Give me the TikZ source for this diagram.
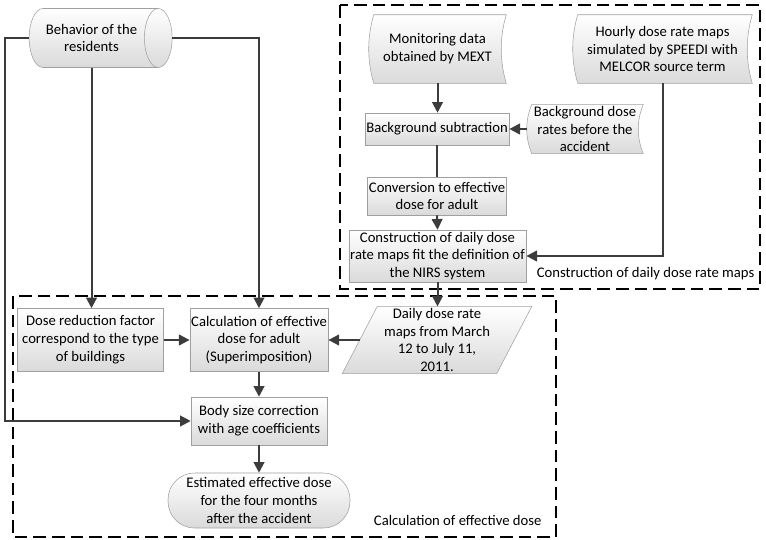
\documentclass[tikz,border=0pt]{standalone}
\usepackage{fontspec}
\setmainfont{Carlito}
\usetikzlibrary{arrows.meta,shapes.geometric,calc,backgrounds}

\definecolor{linegray}{HTML}{3C3C3C}
\definecolor{edgegray}{HTML}{A0A0A0}
\definecolor{fillgray}{HTML}{DADADA}

% stored data outline around a plain node
\newcommand\datashape[1]{%
	\shade[draw=edgegray,top color=white,bottom color=fillgray]
	($(#1.north west)+(5,0)$) -- (#1.north east)
	.. controls ($(#1.north east)!.33!(#1.south east)+(-6.7,0)$) and ($(#1.north east)!.67!(#1.south east)+(-6.7,0)$) .. (#1.south east)
	-- ($(#1.south west)+(5,0)$)
	.. controls ($(#1.south west)!.33!(#1.north west)+(-1.7,0)$) and ($(#1.south west)!.67!(#1.north west)+(-1.7,0)$) .. ($(#1.north west)+(5,0)$) -- cycle;}
% slanted input outline
\newcommand\slantshape[1]{%
	\shade[draw=edgegray,top color=white,bottom color=fillgray]
	($(#1.north west)+(17.5,0)$) -- ($(#1.north east)+(17.5,0)$) -- ($(#1.south east)+(-17.5,0)$) -- ($(#1.south west)+(-17.5,0)$) -- cycle;}

\begin{document}
\begin{tikzpicture}[x=0.75pt,y=-0.75pt,>={Triangle[length=8pt,width=8pt]}]

	\tikzstyle txt=[align=center,inner sep=1pt,font=\fontsize{11}{13.4}\selectfont];
	\tikzstyle box=[txt,draw=edgegray,top color=white,bottom color=fillgray];
	\tikzstyle flow=[draw=linegray,line width=1.5pt];
	\tikzstyle region=[line width=2pt,dash pattern=on 9.5pt off 4.5pt];

	\useasboundingbox (0,0) rectangle (766,539);

	% upper block
	\node[txt,minimum width=102.75pt,minimum height=51pt] (mon) at (437.5,49) {Monitoring data\\obtained by MEXT};
	\node[txt,minimum width=134.25pt,minimum height=51pt] (hourly) at (662.5,49) {Hourly dose rate maps\\simulated by SPEEDI with\\MELCOR source term};
	\node[box,minimum width=102.75pt,minimum height=24pt] (bgsub) at (437,129) {Background subtraction};
	\node[txt,minimum width=87pt,minimum height=36pt] (bgdose) at (585,129) {Background dose\\rates before the\\accident};
	\node[box,minimum width=102.75pt,minimum height=28.5pt] (conv) at (437,196) {Conversion to effective\\dose for adult};
	\node[box,minimum width=123.75pt,minimum height=39pt] (cons) at (437.5,256) {Construction of daily dose\\rate maps fit the definition of\\the NIRS system};

	% lower block
	\node[txt,minimum width=115.5pt,minimum height=49.5pt] (daily) at (437,340) {Daily dose rate\\maps from March\\12 to July 11,\\2011.};
	\node[box,minimum width=109.5pt,minimum height=47.25pt] (dred) at (90.5,340) {Dose reduction factor\\correspond to the type\\of buildings};
	\node[box,minimum width=102pt,minimum height=47.25pt] (calc) at (259,340) {Calculation of effective\\dose for adult\\(Superimposition)};
	\node[box,minimum width=102pt,minimum height=36pt] (body) at (259,421) {Body size correction\\with age coefficients};
	\node[box,rounded corners=20pt,minimum width=136.5pt,minimum height=41.25pt] (est) at (259,500.5) {Estimated effective dose\\for the four months\\after the accident};

	\node[box,cylinder,aspect=0.9,minimum width=44.25pt,minimum height=107.25pt] (beh) at (91.5,38) {Behavior of the\\residents};

	\begin{scope}[on background layer]
		\datashape{mon}
		\datashape{hourly}
		\datashape{bgdose}
		\slantshape{daily}
	\end{scope}

	% frames
	\draw[region] (340,5) rectangle (760,289);
	\draw[region] (13,296) rectangle (556,537);
	\node[txt,anchor=east] (maplbl) at (756,274) {Construction of daily dose rate maps};
	\node[txt,anchor=east] (doselbl) at (543,520) {Calculation of effective dose};

	\coordinate (rail) at (5,38);

	\draw[flow,->] (mon.south) -- (mon.south |- bgsub.north);
	\draw[flow,->] (bgdose.west) -- (bgsub.east);
	\draw[flow] (bgsub.south) -- (conv.north);
	\draw[flow,->] (conv.south) -- (cons.north);
	\draw[flow,->] (hourly.south) |- (cons.east);
	\draw[flow,->] (cons.south) -- (cons.south |- daily.north);

	\draw[flow,->] (beh.west) -- (rail) |- (body.west);
	\draw[flow,->] (beh.south) -- (beh.south |- dred.north);
	\draw[flow,->] (beh.east) -| (calc.north);
	\draw[flow,->] (dred.east) -- (calc.west);
	\draw[flow,->] (daily.west) -- (calc.east);
	\draw[flow,->] (calc.south) -- (body.north);
	\draw[flow,->] (body.south) -- (est.north);

\end{tikzpicture}
\end{document}
